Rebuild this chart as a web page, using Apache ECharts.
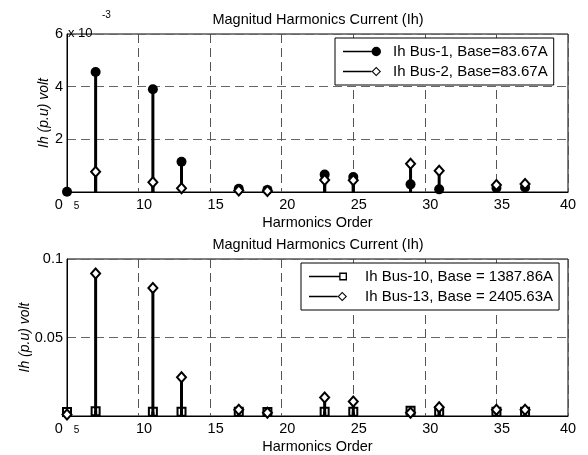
<!DOCTYPE html>
<html lang="en">
<head>
  <meta charset="UTF-8">
  <title>Magnitud Harmonics Current (Ih)</title>
  <style>
    html, body { margin: 0; padding: 0; background: #fff; }
  </style>
</head>
<body>
  <div id="main" style="width: 588px; height: 455px"></div>
  <script src="https://cdn.jsdelivr.net/npm/echarts@6/dist/echarts.min.js"></script>
  <script>
    // harmonic orders (x) and per-unit currents
    const harmonics = [5, 7, 11, 13, 17, 19, 23, 25, 29, 31, 35, 37];
    const bus1 = [0.00001, 0.00456, 0.00390, 0.00115, 0.00012, 0.00008, 0.00066, 0.00057, 0.00029, 0.00010, 0.00015, 0.00017];
    const bus2 = [null, 0.00077, 0.00037, 0.00014, 0.00006, 0.00004, 0.00046, 0.00045, 0.00107, 0.00081, 0.00027, 0.00030];
    const bus10 = [0.0025, 0.0030, 0.0027, 0.0027, 0.0027, 0.0025, 0.0027, 0.0027, 0.0033, 0.0027, 0.0027, 0.0027];
    const bus13 = [0.0010, 0.0907, 0.0815, 0.0247, 0.0040, 0.0020, 0.0118, 0.0093, 0.0020, 0.0055, 0.0040, 0.0040];
    const names = ['Ih Bus-1, Base=83.67A', 'Ih Bus-2, Base=83.67A',
                   'Ih Bus-10, Base = 1387.86A', 'Ih Bus-13, Base = 2405.63A'];

    const font = 'Liberation Sans, Arial, sans-serif';
    const fs = 14.5;

    function pairs(ys) {
      return harmonics.map((h, i) => [h, ys[i]]);
    }

    // stem = thin bar from 0 to the value
    function stem(idx, ys, z) {
      return {
        type: 'bar', xAxisIndex: idx, yAxisIndex: idx,
        data: pairs(ys), barWidth: 3, barGap: '-100%',
        itemStyle: { color: '#000' }, z: z, silent: true
      };
    }
    function marks(idx, name, ys, symbol, size, fill, z) {
      return {
        type: 'scatter', name: name, xAxisIndex: idx, yAxisIndex: idx,
        data: pairs(ys), symbol: symbol, symbolSize: size,
        itemStyle: { color: fill, borderColor: '#000', borderWidth: fill === '#000' ? 0 : 2, opacity: 1 },
        z: z
      };
    }

    function xAxis(idx) {
      return {
        type: 'value', gridIndex: idx, min: 5, max: 40, interval: 5,
        name: 'Harmonics Order', nameLocation: 'middle', nameGap: 23,
        nameTextStyle: { fontFamily: font, fontSize: fs, color: '#000' },
        axisLine: { lineStyle: { color: '#000', width: 1 } },
        axisTick: { show: false },
        axisLabel: {
          color: '#000', fontFamily: font, fontSize: fs, margin: 5,
          formatter: v => v === 5 ? '{a|0}{s|}{b|5}' : (v === 40 ? '40' : '{s|}' + v),
          rich: {
            a: { fontSize: fs, fontFamily: font, color: '#000' },
            b: { fontSize: 10, fontFamily: font, color: '#000', padding: [3, 0, 0, 0] },
            s: { width: 11 }
          }
        },
        splitLine: { show: true, lineStyle: { color: '#555', type: [9, 5], width: 1 } }
      };
    }
    function yAxis(idx, max, interval, fmt, gap) {
      return {
        type: 'value', gridIndex: idx, min: 0, max: max, interval: interval,
        name: 'Ih (p.u) volt', nameLocation: 'middle', nameGap: gap, nameMoveOverlap: false,
        nameTextStyle: { fontFamily: font, fontSize: 14, fontStyle: 'italic', color: '#000' },
        axisLine: { show: true, lineStyle: { color: '#000', width: 1 } },
        axisTick: { show: false },
        axisLabel: { color: '#000', fontFamily: font, fontSize: fs, margin: 4, showMinLabel: false, formatter: fmt },
        splitLine: { show: true, lineStyle: { color: '#666', type: [9, 5], width: 1 } }
      };
    }

    const circleIcon = 'path://M0,4.2H30V5.8H0Z M30,5A5,5,0,1,1,40,5A5,5,0,1,1,30,5Z';
    const diamondIcon = 'path://M0,4.2H30V5.8H0Z M30,5L35,0L40,5L35,10Z M31.6,5L35,8.4L38.4,5L35,1.6Z';
    const squareIcon = 'path://M0,4.2H31V5.8H0Z M31,1H39V9H31Z M32.4,2.4V7.6H37.6V2.4Z';

    function legend(top, left, data, icons, textPad) {
      return {
        orient: 'vertical', left: left, top: top,
        data: data.map((n, i) => ({ name: n, icon: icons[i] })),
        itemWidth: 38, itemHeight: 9.5, itemGap: 5,
        padding: [6, 6, 6, 8],
        backgroundColor: '#fff', borderColor: '#000', borderWidth: 1,
        itemStyle: { color: '#000', borderWidth: 0 },
        textStyle: { fontFamily: font, fontSize: 15, color: '#000', lineHeight: 15, padding: [0, 0, 0, textPad] },
        selectedMode: false
      };
    }

    const chart = echarts.init(document.getElementById('main'));
    chart.setOption({
      animation: false,
      backgroundColor: '#fff',
      title: [
        { text: 'Magnitud Harmonics Current (Ih)', left: 313, top: 7, textAlign: 'center',
          textStyle: { fontFamily: font, fontSize: fs, fontWeight: 'normal', color: '#000' } },
        { text: 'Magnitud Harmonics Current (Ih)', left: 313, top: 232, textAlign: 'center',
          textStyle: { fontFamily: font, fontSize: fs, fontWeight: 'normal', color: '#000' } }
      ],
      grid: [
        { left: 67, top: 34, width: 501, height: 158, show: true, borderColor: '#000', borderWidth: 1 },
        { left: 67, top: 259, width: 501, height: 158, show: true, borderColor: '#000', borderWidth: 1 }
      ],
      xAxis: [xAxis(0), xAxis(1)],
      yAxis: [
        yAxis(0, 0.006, 0.002, v => String(Math.round(v * 1000)), 16),
        yAxis(1, 0.1, 0.05, v => String(Math.round(v * 100) / 100), 35)
      ],
      legend: [
        legend(38, 335, [names[0], names[1]], [circleIcon, diamondIcon], 7),
        legend(263, 301, [names[2], names[3]], [squareIcon, diamondIcon], 13)
      ],
      graphic: [
        { type: 'text', left: 68, top: 27, z: 100,
          style: { text: 'x 10', font: '13px ' + font, fill: '#000' } },
        { type: 'text', left: 102, top: 10, z: 100,
          style: { text: '-3', font: '10px ' + font, fill: '#000' } }
      ],
      series: [
        stem(0, bus1, 2),
        marks(0, names[0], bus1, 'circle', 10, '#000', 3),
        stem(0, bus2, 4),
        marks(0, names[1], bus2, 'diamond', [9, 10], '#fff', 5),
        stem(1, bus10, 2),
        marks(1, names[2], bus10, 'rect', 8, 'rgba(0,0,0,0)', 3),
        stem(1, bus13, 4),
        marks(1, names[3], bus13, 'diamond', [9, 10], '#fff', 5)
      ]
    });
  </script>
</body>
</html>
